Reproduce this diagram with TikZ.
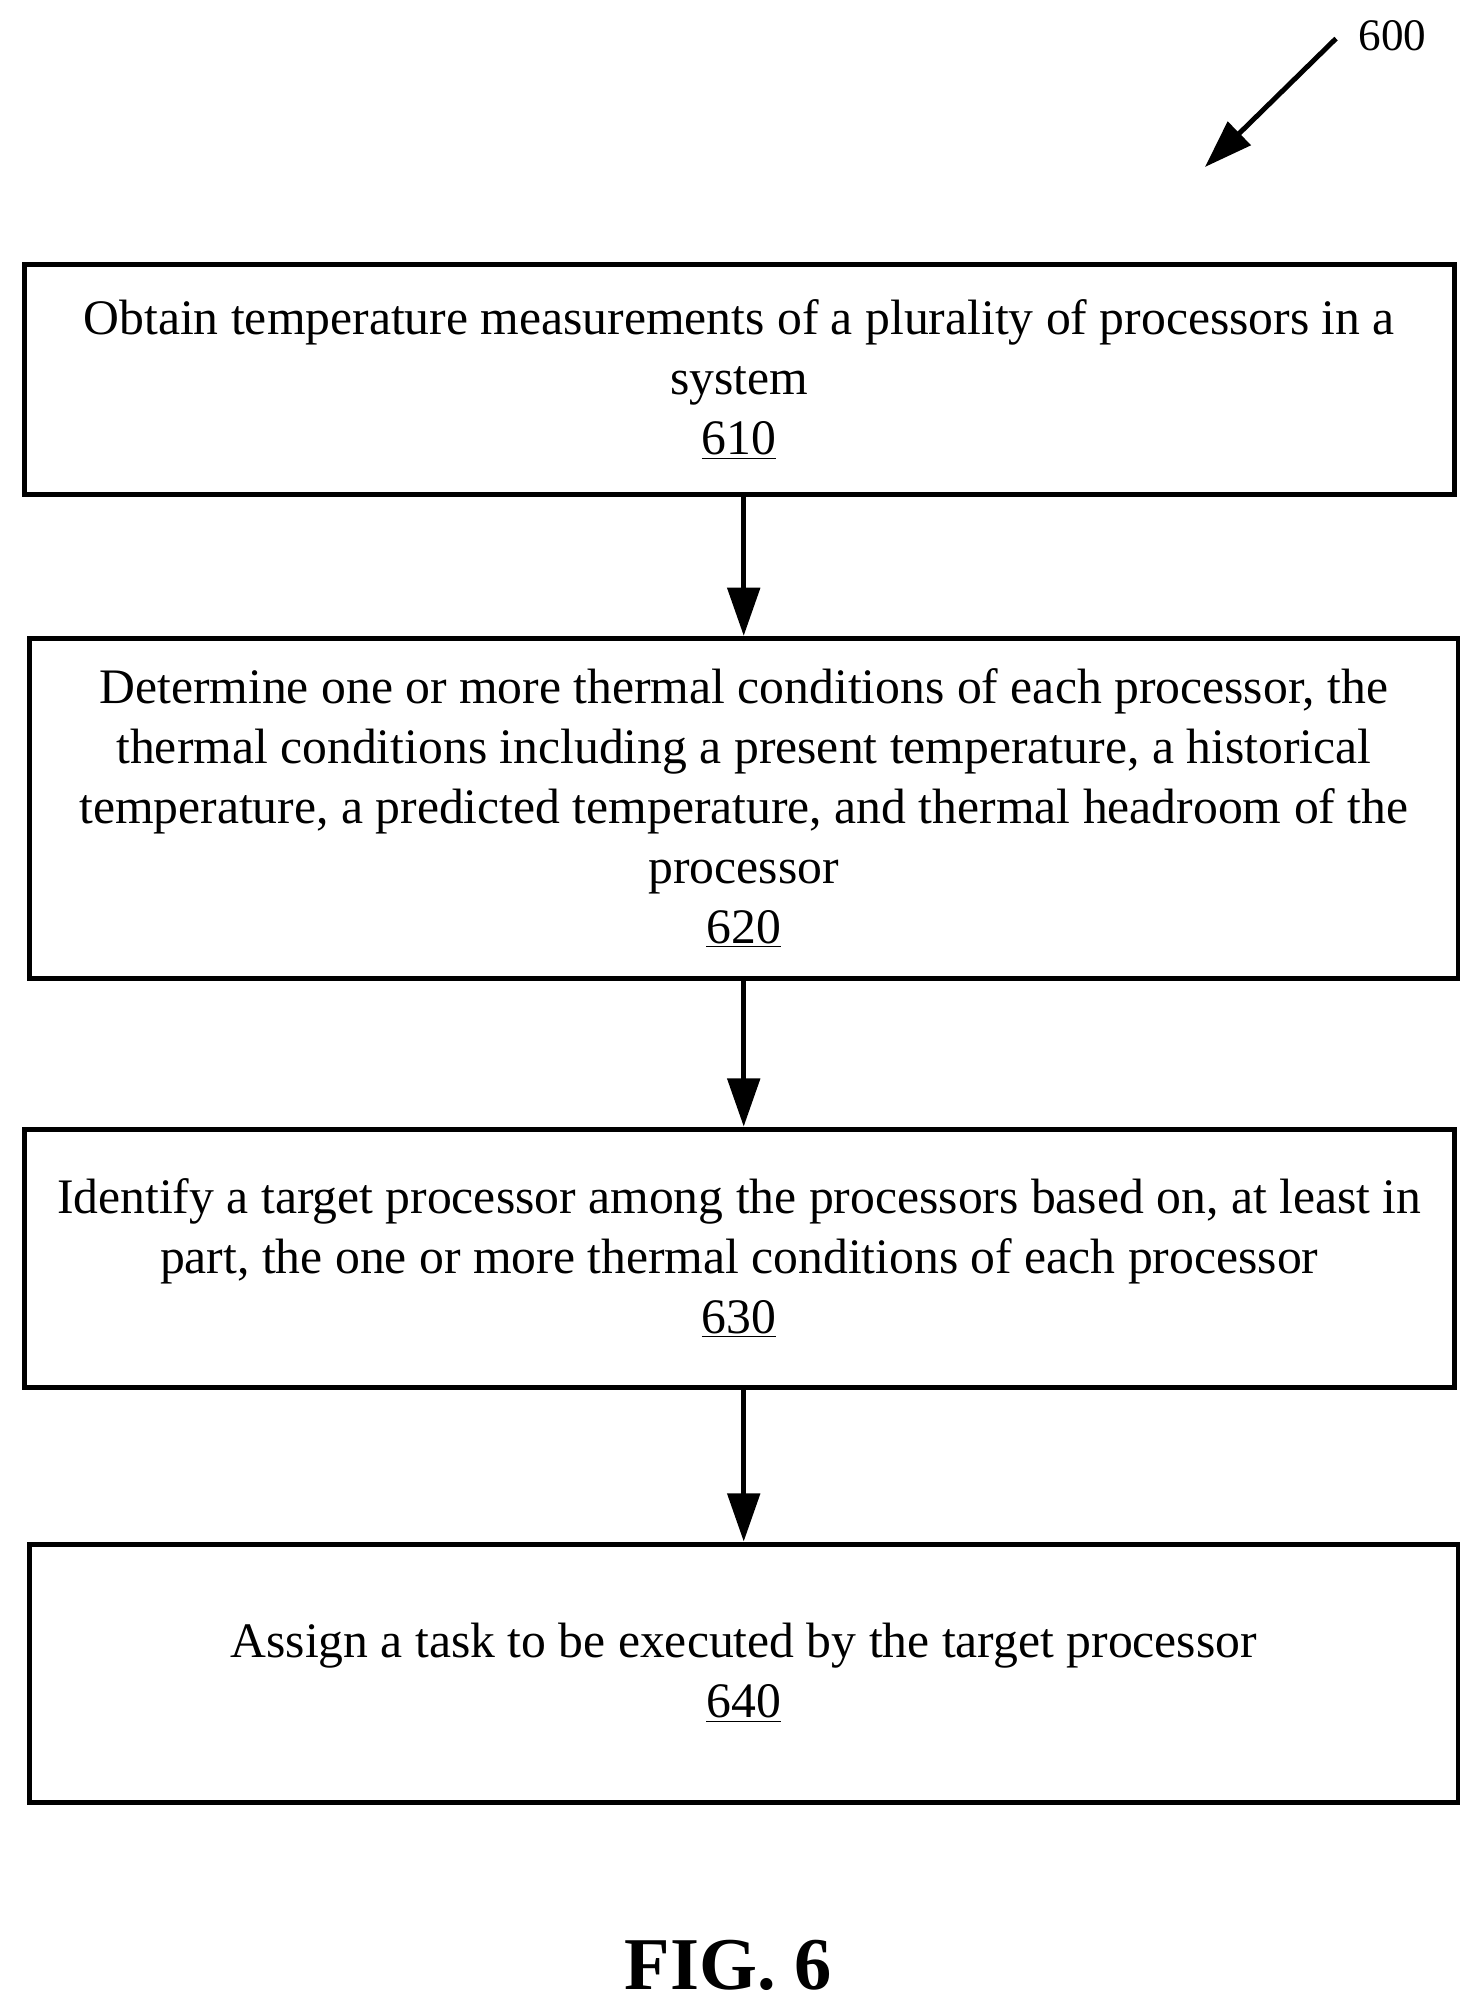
\documentclass[tikz,border=0pt]{standalone}
\usepackage{fontspec}
\setmainfont{Liberation Serif}
\usetikzlibrary{arrows.meta}
\begin{document}
\begin{tikzpicture}[x=0.02cm,y=-0.02cm,
  box/.style={draw,line width=2.2pt,anchor=north west,align=center,inner sep=0pt,
    font=\fontsize{22}{26.5}\selectfont},
  arr/.style={line width=2.2pt,-{Triangle[length=0.75cm,width=0.5cm]}}]
\useasboundingbox (0,0) rectangle (1150,1567);
\node[box,minimum width=1113*0.02cm,minimum height=179*0.02cm] (b1) at (17,204)
 {Obtain temperature measurements of a plurality of processors in a\\ system\\ \underline{610}};
\node[box,minimum width=1112*0.02cm,minimum height=265*0.02cm] (b2) at (21,495)
 {Determine one or more thermal conditions of each processor, the\\ thermal conditions including a present temperature, a historical\\ temperature, a predicted temperature, and thermal headroom of the\\ processor\\ \underline{620}};
\node[box,minimum width=1113*0.02cm,minimum height=201*0.02cm] (b3) at (17,877)
 {Identify a target processor among the processors based on, at least in\\ part, the one or more thermal conditions of each processor\\ \underline{630}};
\node[box,minimum width=1112*0.02cm,minimum height=201*0.02cm] (b4) at (21,1200)
 {Assign a task to be executed by the target processor\\ \underline{640}};
\draw[arr] (b2.north |- b1.south) -- (b2.north);
\draw[arr] (b2.south) -- (b2.south |- b3.north);
\draw[arr] (b4.north |- b3.south) -- (b4.north);
\node[font=\fontsize{20}{22}\selectfont] (lbl) at (1084,28) {600};
\coordinate (tip) at (938,130);
\draw[arr] (1040,30) -- (tip);
\node[font=\bfseries\fontsize{33}{36}\selectfont] (fig) at (567,1530) {FIG. 6};
\end{tikzpicture}
\end{document}
